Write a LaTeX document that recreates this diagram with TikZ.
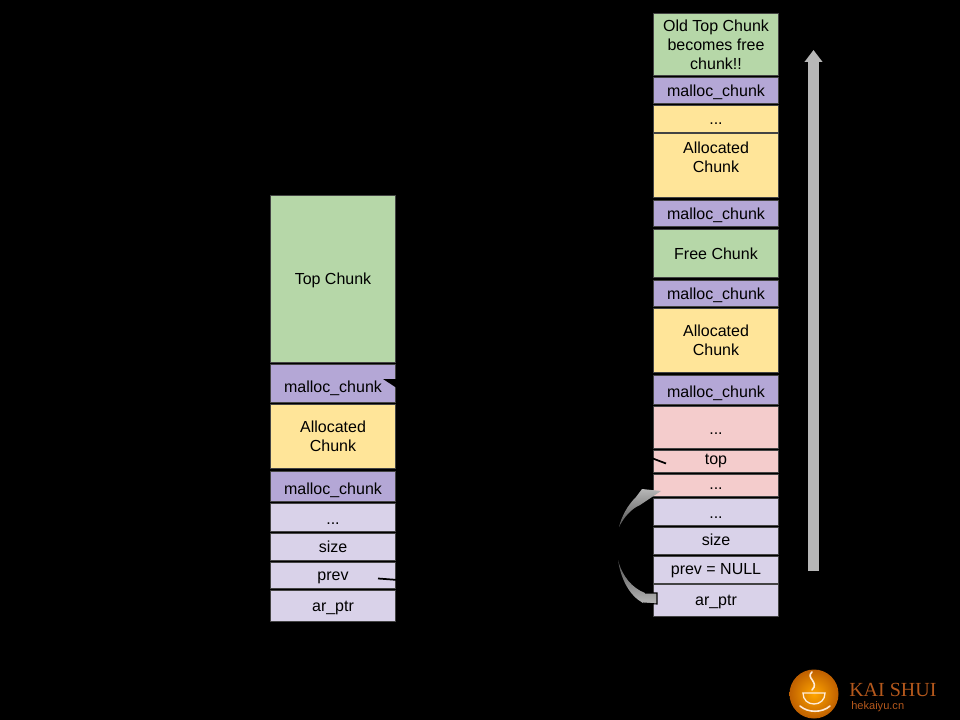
\documentclass[tikz,border=0pt]{standalone}
\usepackage{fontspec}
\setmainfont{Liberation Sans}
\newfontfamily\logofont{Liberation Serif}
\usepackage{xcolor}
\usetikzlibrary{arrows.meta}
\definecolor{chunk_g}{HTML}{B6D7A8}
\definecolor{chunk_m}{HTML}{B4A7D6}
\definecolor{chunk_y}{HTML}{FFE599}
\definecolor{chunk_r}{HTML}{F4CCCC}
\definecolor{chunk_l}{HTML}{D9D2E9}
\definecolor{chunk_e}{HTML}{434343}
\definecolor{flow_c}{HTML}{B7B7B7}
\definecolor{logo_c}{HTML}{B4581C}
\tikzset{
  chunk/.style = {rectangle, align=center, inner sep=0pt, outer sep=0pt, text=black,
    draw=chunk_e, line width=0.5pt, minimum width=94pt, font=\fontsize{12}{14.2}\selectfont},
  ht/.style = {minimum height=(#1-1)*0.75pt},
  base/.style = {text depth=0pt, text height=#1*1.5pt},% baseline, px under the centre
  arn_g/.style = {chunk, fill=chunk_g},% free chunk
  arn_m/.style = {chunk, fill=chunk_m},% malloc_chunk
  arn_y/.style = {chunk, fill=chunk_y},% allocated
  arn_r/.style = {chunk, fill=chunk_r},% arena, upper part
  arn_l/.style = {chunk, fill=chunk_l},% arena, lower part
  link/.style = {black, line width=1.3pt},
  flow/.style = {flow_c, line width=8.2pt, -{Triangle[length=9pt,width=13pt]}}
}
\begin{document}
\begin{tikzpicture}[x=0.75pt,y=-0.75pt]
\fill[black] (0,0) rectangle (960,720);
\useasboundingbox (0,0) rectangle (960,720);
% left heap
\node [arn_g, ht=168, base=5.5] (l_top) at (333,279) {Top Chunk};
\node [arn_m, ht=39, base=9] (l_mc2) at (333,383.5) {malloc\_chunk};
\node [arn_y, ht=65, text depth=-1.5pt] (l_alloc) at (333,436.5) {Allocated\\Chunk};
\node [arn_m, ht=31, base=7.5] (l_mc1) at (333,486.5) {malloc\_chunk};
\node [arn_l, ht=29, base=6.5] (l_dots) at (333,517.5) {...};
\node [arn_l, ht=28, base=5] (l_size) at (333,547) {size};
\node [arn_l, ht=27, base=5] (l_prev) at (333,575.5) {prev};
\node [arn_l, ht=32, base=5] (l_ptr) at (333,606) {ar\_ptr};
% right heap
\node [arn_g, ht=63, text depth=-1.5pt] (r_old) at (716,44.5) {Old Top Chunk\\becomes free\\chunk!!};
\node [arn_m, ht=27, base=6.5] (r_mc5) at (716,90.5) {malloc\_chunk};
\node [arn_y, ht=28, base=5.5] (r_dots3) at (716,119) {...};
\node [arn_y, ht=65, text depth=12.5pt] (r_alloc2) at (716,165.5) {Allocated\\Chunk};
\node [arn_m, ht=27, base=6.5] (r_mc4) at (716,213.5) {malloc\_chunk};
\node [arn_g, ht=49, base=6] (r_free) at (716,253.5) {Free Chunk};
\node [arn_m, ht=27, base=6.5] (r_mc3) at (716,293.5) {malloc\_chunk};
\node [arn_y, ht=65, text depth=-1.5pt] (r_alloc1) at (716,340.5) {Allocated\\Chunk};
\node [arn_m, ht=30, base=7] (r_mc2) at (716,390) {malloc\_chunk};
\node [arn_r, ht=43, base=6.5] (r_dots2) at (716,427.5) {...};
\node [arn_r, ht=23, base=3] (r_top) at (716,461.5) {top};
\node [arn_r, ht=23, base=3.5] (r_dots1) at (716,485.5) {...};
\node [arn_l, ht=28, base=6] (r_dots0) at (716,512) {...};
\node [arn_l, ht=28, base=4.5] (r_size) at (716,541) {size};
\node [arn_l, ht=28, base=4.5] (r_prev) at (716,569.5) {prev = NULL};
\node [arn_l, ht=33, base=5] (r_ptr) at (716,600.5) {ar\_ptr};
% black links, only their ends show on the boxes
\coordinate (l_out) at (378,578.5);
\coordinate (l_side) at (405,580.5);
\coordinate (l_in) at (383,379);
\draw[link] (l_out) -- (l_side);
\fill[black] (l_in) -- (396,379) -- (396,387.5) -- cycle;
\coordinate (r_out) at (666,463.5);
\coordinate (r_side) at (645,455.5);
\draw[link] (r_out) -- (r_side);
% grey arrows
\coordinate (flow_b) at (813.5,571);
\coordinate (flow_t) at (813.5,50);
\draw[flow] (flow_b) -- (flow_t);
\shade[top color=flow_c, bottom color=flow_c!45!black] (661,491) -- (642,489) -- (636,497)
  .. controls (628,505) and (622,515) .. (619,527)
  .. controls (624,517) and (631,509) .. (640,505) -- cycle;
\shade[bottom color=flow_c, top color=flow_c!45!black] (618,560)
  .. controls (622,576) and (632,588) .. (645,593) -- (657,593) -- (657,604)
  -- (643,603) .. controls (630,596) and (621,580) .. cycle;
\draw[black, line width=0.8pt] (645,593) -- (657,593) -- (657,604) -- (643,603);
% logo
\shade[inner color=orange!70!yellow, outer color=orange!75!black] (814,694) circle (24.5);
\draw[white!85!orange, line width=1.2pt, line cap=round] (812,672) .. controls (805,678) and (820,682) .. (812,690);
\draw[white!85!orange, line width=1pt] (803,693) -- (825,693) .. controls (825,700) and (820,704) .. (814,704) .. controls (808,704) and (803,700) .. (803,693) -- cycle;
\draw[white!85!orange, line width=1.2pt, line cap=round] (800,706) .. controls (808,713) and (822,713) .. (830,706);
\node [font=\logofont\fontsize{15}{16}\selectfont, text=logo_c, inner sep=0pt, anchor=west] (logo_t) at (849,689.5) {KAI SHUI};
\node [font=\fontsize{8.3}{9}\selectfont, text=logo_c, inner sep=0pt, anchor=west] (logo_u) at (851,706.5) {hekaiyu.cn};
\end{tikzpicture}
\end{document}
